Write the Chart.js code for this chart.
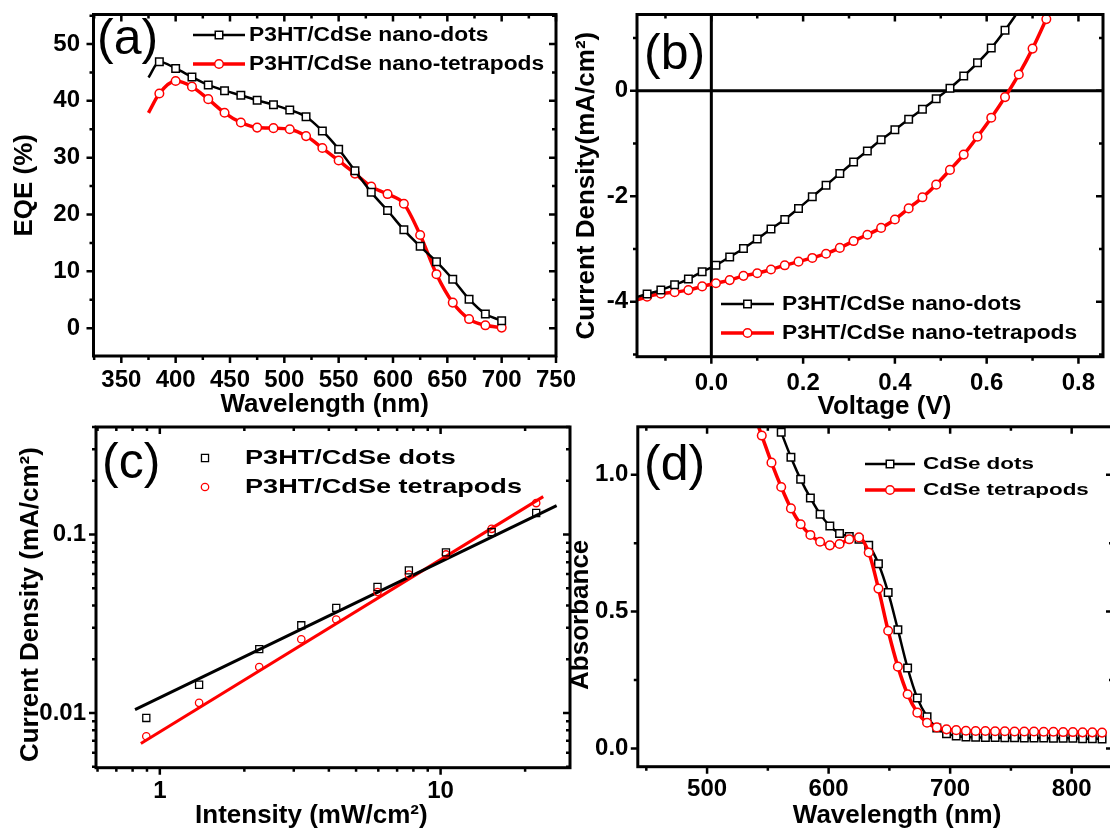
<!DOCTYPE html>
<html>
<head>
<meta charset="utf-8">
<script src="https://cdn.jsdelivr.net/npm/chart.js@4.4.1/dist/chart.umd.min.js"></script>
<style>
  body { margin: 0; background: #fff; width: 1110px; height: 829px; overflow: hidden; position: relative; font-family: "Liberation Sans", Arial, sans-serif; }
  canvas { position: absolute; }
  .tag { position: absolute; font-size: 50px; line-height: 50px; color: #000; white-space: nowrap; }
</style>
</head>
<body>
<canvas id="eqeChart" width="580" height="420" style="left:0;top:0"></canvas>
<canvas id="jvChart" width="550" height="420" style="left:560px;top:0"></canvas>
<canvas id="lightChart" width="580" height="409" style="left:0;top:420px"></canvas>
<canvas id="absChart" width="560" height="409" style="left:560px;top:420px"></canvas>
<div class="tag" style="left:97px;top:12px">(a)</div>
<div class="tag" style="left:644px;top:27px">(b)</div>
<div class="tag" style="left:102px;top:436px">(c)</div>
<div class="tag" style="left:644px;top:438px">(d)</div>
<script>
// (a) EQE spectra
const eqeWavelength = [375, 385, 400, 415, 430, 445, 460, 475, 490, 505, 520, 535, 550, 565, 580, 595, 610, 625, 640, 655, 670, 685, 700];
const eqeDots = [44.1, 46.9, 45.7, 44.2, 42.8, 41.8, 41.0, 40.1, 39.3, 38.4, 37.2, 34.7, 31.5, 27.7, 23.9, 20.7, 17.3, 14.4, 11.7, 8.6, 5.1, 2.5, 1.3];
const eqeTetrapods = [37.9, 41.3, 43.5, 42.5, 40.3, 37.9, 36.2, 35.3, 35.2, 35.0, 33.8, 31.7, 29.5, 27.2, 24.9, 23.6, 21.9, 16.4, 9.5, 4.5, 1.6, 0.5, 0.1];
const eqeXLabels = [350, 400, 450, 500, 550, 600, 650, 700, 750];
const eqeYLabels = [0, 10, 20, 30, 40, 50];

// (b) J-V curves
const jvVoltageDots = [-0.17, -0.14, -0.11, -0.08, -0.05, -0.02, 0.01, 0.04, 0.07, 0.10, 0.13, 0.16, 0.19, 0.22, 0.25, 0.28, 0.31, 0.34, 0.37, 0.40, 0.43, 0.46, 0.49, 0.52, 0.55, 0.58, 0.61, 0.64, 0.67];
const jvDots = [-3.93, -3.855, -3.78, -3.68, -3.57, -3.43, -3.31, -3.15, -2.99, -2.81, -2.62, -2.44, -2.23, -2.01, -1.79, -1.57, -1.35, -1.14, -0.93, -0.74, -0.54, -0.35, -0.15, 0.05, 0.28, 0.53, 0.81, 1.15, 1.52];
const jvVoltageTetrapods = [-0.17, -0.14, -0.11, -0.08, -0.05, -0.02, 0.01, 0.04, 0.07, 0.10, 0.13, 0.16, 0.19, 0.22, 0.25, 0.28, 0.31, 0.34, 0.37, 0.40, 0.43, 0.46, 0.49, 0.52, 0.55, 0.58, 0.61, 0.64, 0.67, 0.70, 0.73];
const jvTetrapods = [-3.99, -3.905, -3.85, -3.82, -3.78, -3.71, -3.65, -3.59, -3.51, -3.46, -3.39, -3.31, -3.24, -3.17, -3.09, -2.98, -2.85, -2.73, -2.60, -2.44, -2.23, -2.02, -1.78, -1.50, -1.21, -0.87, -0.51, -0.12, 0.31, 0.80, 1.36];
const jvXLabels = [0, 0.2, 0.4, 0.6, 0.8];
const jvYLabels = [-4, -2, 0];

// (c) light intensity dependence
const intensity = [0.895, 1.38, 2.26, 3.19, 4.25, 5.96, 7.71, 10.45, 15.2, 21.9];
const jscDots = [0.00938, 0.0144, 0.0228, 0.0310, 0.0388, 0.0508, 0.0630, 0.0794, 0.103, 0.132];
const jscTetrapods = [0.00741, 0.0114, 0.0181, 0.0259, 0.0334, 0.0476, 0.0596, 0.0773, 0.1076, 0.150];
const fitIntensityDots = [0.816, 25.9];
const fitDots = [0.01045, 0.145];
const fitIntensityTetrapods = [0.856, 23.2];
const fitTetrapods = [0.00675, 0.163];
const lightXLabels = [1, 10];
const lightYLabels = [0.01, 0.1];

// (d) absorbance
const absWavelengthDots = [553, 561, 569, 577, 585, 593, 601, 609, 617, 625, 633, 641, 649, 657, 665, 673, 681, 689, 697, 705, 713, 721, 729, 737, 745, 753, 761, 769, 777, 785, 793, 801, 809, 817, 825];
const absDots = [1.25, 1.155, 1.064, 0.983, 0.915, 0.856, 0.813, 0.785, 0.774, 0.764, 0.742, 0.675, 0.570, 0.434, 0.294, 0.184, 0.116, 0.075, 0.054, 0.046, 0.042, 0.041, 0.040, 0.040, 0.039, 0.039, 0.038, 0.038, 0.038, 0.037, 0.037, 0.037, 0.036, 0.036, 0.035];
const absWavelengthTetrapods = [537, 545, 553, 561, 569, 577, 585, 593, 601, 609, 617, 625, 633, 641, 649, 657, 665, 673, 681, 689, 697, 705, 713, 721, 729, 737, 745, 753, 761, 769, 777, 785, 793, 801, 809, 817, 825];
const absTetrapods = [1.24, 1.143, 1.044, 0.955, 0.877, 0.819, 0.780, 0.755, 0.742, 0.747, 0.764, 0.771, 0.716, 0.584, 0.430, 0.299, 0.198, 0.131, 0.094, 0.077, 0.070, 0.067, 0.065, 0.064, 0.064, 0.063, 0.063, 0.062, 0.062, 0.062, 0.061, 0.061, 0.060, 0.060, 0.059, 0.059, 0.058];
const absXLabels = [500, 600, 700, 800];
const absYLabels = [0, 0.5, 1.0];

const FONT = '"Liberation Sans", Arial, Helvetica, sans-serif';
Chart.defaults.font.family = FONT;
Chart.defaults.font.weight = 'bold';
Chart.defaults.color = '#000';

const blackSq = { color: '#000', fill: '#fff', width: 2.5, shape: 'rect', r: 5.3, pw: 1.5 };
const redCirc = { color: '#ff0000', fill: '#fff', width: 3.5, shape: 'circle', r: 4.3, pw: 1.5 };
const blackSqOpen = { color: '#000', fill: 'rgba(0,0,0,0)', width: 3, shape: 'rect', r: 5, pw: 1.3 };
const redCircOpen = { color: '#ff0000', fill: 'rgba(0,0,0,0)', width: 3, shape: 'circle', r: 3.7, pw: 1.3 };

const isIn = (arr, v) => arr.some(a => Math.abs(a - v) < 1e-6 * Math.max(1, Math.abs(a)));

function stepTicks(min, max, step) {
  const out = [];
  for (let k = Math.ceil(min / step - 1e-9); k * step <= max + 1e-9; k++) out.push({ value: +(k * step).toFixed(6) });
  return out;
}
function logTicks(min, max) {
  const out = [];
  for (let e = -4; e <= 3; e++) {
    for (let m = 1; m <= 9; m++) {
      const v = +(m * Math.pow(10, e)).toPrecision(6);
      if (v >= min && v <= max) out.push({ value: v });
    }
  }
  return out;
}

// hide the marker on the first / last point (line only runs on to the frame)
function marks(n, r, hidden) {
  return Array.from({ length: n }, (_, i) => hidden.includes(i) || hidden.includes(i - n) ? 0 : r);
}

function series(label, xs, ys, st, extra) {
  return Object.assign({
    label,
    key: st,
    data: xs.map((x, i) => ({ x, y: ys[i] })),
    showLine: true,
    borderColor: st.color,
    backgroundColor: st.fill,
    borderWidth: st.width,
    pointStyle: st.shape,
    pointRadius: st.r,
    pointHoverRadius: st.r,
    pointBorderColor: st.color,
    pointBackgroundColor: st.fill,
    pointBorderWidth: st.pw,
    cubicInterpolationMode: 'monotone'
  }, extra || {});
}

// spaces nudge an axis title off the centre of its axis, as in the original figure
const nudge = (text, lead, trail) => ' '.repeat(lead) + text + ' '.repeat(trail);

function axis(o) {
  const left = o.pos === 'left';
  return {
    type: o.type || 'linear',
    position: o.pos,
    min: o.min,
    max: o.max,
    grid: { display: false },
    border: { display: false },
    afterBuildTicks: s => { s.ticks = o.type === 'logarithmic' ? logTicks(o.min, o.max) : stepTicks(o.min, o.max, o.step); },
    afterFit: s => {
      if (left) s.width = o.size; else s.height = o.size;
      s.paddingTop = 0; s.paddingBottom = 0; s.paddingLeft = 0; s.paddingRight = 0;
    },
    ticks: {
      autoSkip: false, maxRotation: 0, minRotation: 0, padding: o.pad,
      font: { size: 24, weight: 'bold' }, color: '#000',
      callback: v => isIn(o.major, v) ? o.fmt(v) : ''
    },
    title: {
      display: true, text: o.title, color: '#000',
      font: { size: 26, weight: 'bold', lineHeight: 1 },
      padding: left ? { top: o.titlePad, bottom: 0 } : { top: 0, bottom: o.titlePad }
    }
  };
}

// per-panel frame ticks and legend placement (canvas pixels)
const panels = {
  eqeChart: { xMajor: eqeXLabels, yMajor: eqeYLabels,
    key: { line: true, x0: 193, x1: 245, tx: 249, size: 20, sx: 1.14, rows: [[0, 35], [1, 64]] } },
  jvChart: { xMajor: jvXLabels, yMajor: jvYLabels, zeroLines: true,
    key: { line: true, x0: 161, x1: 214, tx: 222, size: 20, sx: 1.14, rows: [[0, 304], [1, 333]] } },
  lightChart: { xMajor: lightXLabels, yMajor: lightYLabels,
    key: { line: false, x0: 205, x1: 205, tx: 245, size: 21, sx: 1.29, rows: [[0, 38], [1, 67]] } },
  absChart: { xMajor: absXLabels, yMajor: absYLabels,
    key: { line: true, x0: 305, x1: 355, tx: 363, size: 17, sx: 1.32, rows: [[0, 44], [1, 70]] } }
};

const framePlugin = {
  id: 'frame',
  beforeDatasetsDraw(chart) {
    const p = panels[chart.canvas.id];
    if (!p.zeroLines) return;
    const { ctx, chartArea: a, scales: { x, y } } = chart;
    const x0 = x.getPixelForValue(0), y0 = y.getPixelForValue(0);
    ctx.save();
    ctx.strokeStyle = '#000';
    ctx.lineWidth = 3;
    ctx.beginPath();
    ctx.moveTo(x0, a.top); ctx.lineTo(x0, a.bottom);
    ctx.moveTo(a.left, y0); ctx.lineTo(a.right, y0);
    ctx.stroke();
    ctx.restore();
  },
  afterDatasetsDraw(chart) {
    const p = panels[chart.canvas.id];
    const { ctx, chartArea: a, scales: { x, y } } = chart;
    ctx.save();
    ctx.strokeStyle = '#000';
    ctx.lineWidth = 2.5;
    ctx.beginPath();
    x.ticks.forEach(t => {
      const px = x.getPixelForValue(t.value);
      const len = isIn(p.xMajor, t.value) ? 7 : 4;
      ctx.moveTo(px, a.bottom); ctx.lineTo(px, a.bottom + len);
      ctx.moveTo(px, a.top); ctx.lineTo(px, a.top + len);
    });
    y.ticks.forEach(t => {
      const py = y.getPixelForValue(t.value);
      const len = isIn(p.yMajor, t.value) ? 7 : 4;
      ctx.moveTo(a.left, py); ctx.lineTo(a.left - len, py);
      ctx.moveTo(a.right, py); ctx.lineTo(a.right - len, py);
    });
    ctx.stroke();
    ctx.lineWidth = 3;
    ctx.strokeRect(a.left, a.top, a.right - a.left, a.bottom - a.top);
    ctx.restore();
  }
};

function drawMark(ctx, st, x, y) {
  ctx.beginPath();
  if (st.shape === 'rect') {
    const h = st.r * Math.SQRT1_2;
    ctx.rect(x - h, y - h, 2 * h, 2 * h);
  } else {
    ctx.arc(x, y, st.r, 0, Math.PI * 2);
  }
  ctx.fillStyle = st.fill;
  ctx.fill();
  ctx.lineWidth = st.pw;
  ctx.strokeStyle = st.color;
  ctx.stroke();
}

const keyPlugin = {
  id: 'key',
  afterDraw(chart) {
    const k = panels[chart.canvas.id].key;
    const ctx = chart.ctx;
    k.rows.forEach(([i, ry]) => {
      const ds = chart.data.datasets[i];
      const st = ds.key;
      ctx.save();
      if (k.line) {
        ctx.strokeStyle = st.color;
        ctx.lineWidth = st.width;
        ctx.beginPath();
        ctx.moveTo(k.x0, ry); ctx.lineTo(k.x1, ry);
        ctx.stroke();
      }
      drawMark(ctx, st, (k.x0 + k.x1) / 2, ry);
      ctx.fillStyle = '#000';
      ctx.font = 'bold ' + k.size + 'px ' + FONT;
      ctx.textBaseline = 'middle';
      ctx.translate(k.tx, ry);
      ctx.scale(k.sx, 1);
      ctx.fillText(ds.label, 0, 0);
      ctx.restore();
    });
  }
};

function baseOptions(pad, xAxis, yAxis) {
  return {
    responsive: false,
    animation: false,
    layout: { padding: pad },
    plugins: { legend: { display: false }, tooltip: { enabled: false } },
    scales: { x: xAxis, y: yAxis }
  };
}

// (a)
new Chart(document.getElementById('eqeChart'), {
  type: 'scatter',
  data: {
    datasets: [
      series('P3HT/CdSe nano-dots', eqeWavelength, eqeDots, blackSq, { pointRadius: marks(eqeWavelength.length, blackSq.r, [0]) }),
      series('P3HT/CdSe nano-tetrapods', eqeWavelength, eqeTetrapods, redCirc, { pointRadius: marks(eqeWavelength.length, redCirc.r, [0]) })
    ]
  },
  options: baseOptions({ top: 14.5, right: 24, left: 0, bottom: 0 },
    axis({ pos: 'bottom', min: 324.4, max: 750, step: 25, major: eqeXLabels, fmt: v => String(v), size: 64, pad: 2, title: 'Wavelength (nm)', titlePad: 2 }),
    axis({ pos: 'left', min: -4.9, max: 55.2, step: 5, major: eqeYLabels, fmt: v => String(v), size: 93.5, pad: 5.5, title: 'EQE (%)', titlePad: 12 })),
  plugins: [framePlugin, keyPlugin]
});

// (b)
new Chart(document.getElementById('jvChart'), {
  type: 'scatter',
  data: {
    datasets: [
      series('P3HT/CdSe nano-dots', jvVoltageDots, jvDots, blackSq, { pointRadius: marks(jvVoltageDots.length, blackSq.r, [0, -1]) }),
      series('P3HT/CdSe nano-tetrapods', jvVoltageTetrapods, jvTetrapods, redCirc, { pointRadius: marks(jvVoltageTetrapods.length, redCirc.r, [0]) })
    ]
  },
  options: baseOptions({ top: 14.5, right: 7, left: 0, bottom: 0 },
    axis({ pos: 'bottom', min: -0.162, max: 0.8535, step: 0.1, major: jvXLabels, fmt: v => v.toFixed(1), size: 63.3, pad: 4, title: nudge('Voltage (V)', 4, 0), titlePad: 0 }),
    axis({ pos: 'left', min: -5.043, max: 1.447, step: 1, major: jvYLabels, fmt: v => String(v), size: 77, pad: 1, title: 'Current Density(mA/cm²)', titlePad: 14 })),
  plugins: [framePlugin, keyPlugin]
});

// (c)
new Chart(document.getElementById('lightChart'), {
  type: 'scatter',
  data: {
    datasets: [
      series('P3HT/CdSe dots', intensity, jscDots, blackSqOpen, { showLine: false, order: 0 }),
      series('P3HT/CdSe tetrapods', intensity, jscTetrapods, redCircOpen, { showLine: false, order: 0 }),
      series('fit dots', fitIntensityDots, fitDots, blackSqOpen, { pointRadius: 0, cubicInterpolationMode: 'default', order: 1 }),
      series('fit tetrapods', fitIntensityTetrapods, fitTetrapods, redCircOpen, { pointRadius: 0, cubicInterpolationMode: 'default', order: 1 })
    ]
  },
  options: baseOptions({ top: 7, right: 10, left: 0, bottom: 0 },
    axis({ type: 'logarithmic', pos: 'bottom', min: 0.5925, max: 28.9, major: lightXLabels, fmt: v => String(v), size: 61.3, pad: 1.3, title: nudge('Intensity (mW/cm²)', 0, 6), titlePad: 0 }),
    axis({ type: 'logarithmic', pos: 'left', min: 0.00494, max: 0.4, major: lightYLabels, fmt: v => String(v), size: 96, pad: 2, title: nudge('Current Density (mA/cm²)', 0, 2), titlePad: 18 })),
  plugins: [framePlugin, keyPlugin]
});

// (d)
new Chart(document.getElementById('absChart'), {
  type: 'scatter',
  data: {
    datasets: [
      series('CdSe dots', absWavelengthDots, absDots, blackSq, { pointRadius: marks(absWavelengthDots.length, blackSq.r, [0]), order: 1 }),
      series('CdSe tetrapods', absWavelengthTetrapods, absTetrapods, redCirc, { pointRadius: marks(absWavelengthTetrapods.length, redCirc.r, [0]), order: 0 })
    ]
  },
  options: baseOptions({ top: 6.7, right: 7, left: 0, bottom: 0 },
    axis({ pos: 'bottom', min: 443, max: 834, step: 50, major: absXLabels, fmt: v => String(v), size: 62.3, pad: 0.3, title: nudge('Wavelength (nm)', 6, 0), titlePad: 0 }),
    axis({ pos: 'left', min: -0.0665, max: 1.175, step: 0.25, major: absYLabels, fmt: v => v.toFixed(1), size: 77.8, pad: 1.4, title: nudge('Absorbance', 0, 5), titlePad: 8 })),
  plugins: [framePlugin, keyPlugin]
});
</script>
</body>
</html>
